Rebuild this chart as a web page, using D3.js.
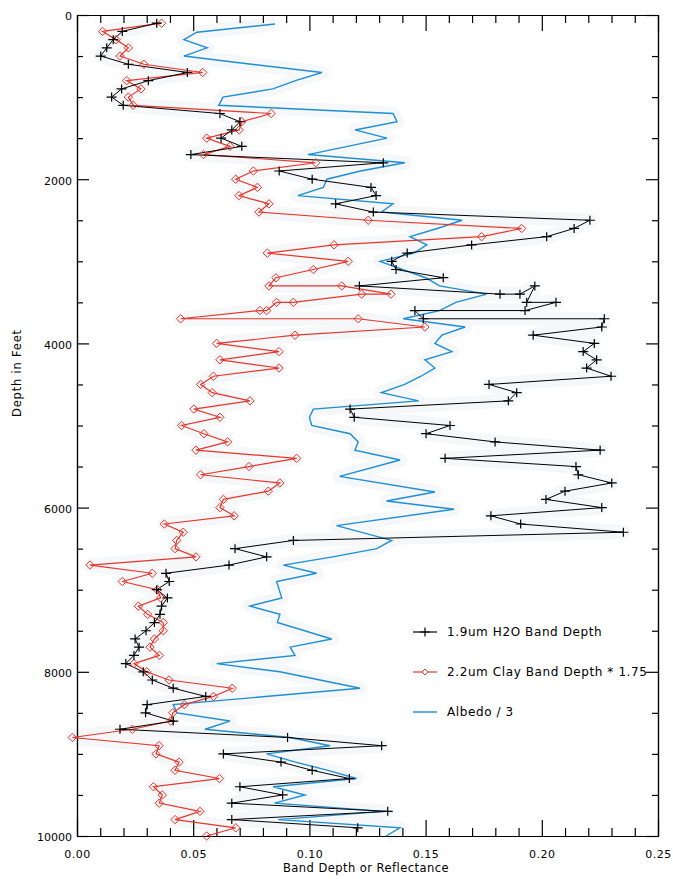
<!DOCTYPE html>
<html><head><meta charset="utf-8">
<script src="https://cdn.jsdelivr.net/npm/d3@7/dist/d3.min.js"></script>
<style>body{margin:0;background:#fff}text{font-family:"DejaVu Sans",sans-serif}</style>
</head><body><svg id="c" width="673" height="879"></svg>
<script>
// 1.9um H2O band depth (depth in feet, value)
const h2oDepth = [100,200,300,400,500,600,700,800,900,1000,1100,1200,1300,1400,1500,1600,1700,1800,1900,2000,
 2100,2200,2300,2400,2500,2600,2700,2800,2900,3000,3100,3200,3300,3400,3400,3300,3500,3500,3600,3600,3700,3700,
 3800,3900,4000,4100,4200,4300,4400,4500,4600,4700,4800,4900,5000,5100,5200,5300,5400,5500,5600,5700,5800,5900,
 6000,6100,6200,6300,6400,6500,6600,6700,6800,6900,7000,7100,7200,7300,7400,7500,7600,7700,7800,7900,8000,8100,
 8200,8300,8400,8500,8600,8700,8800,8900,9000,9100,9200,9300,9400,9500,9600,9700,9800,9900];
const h2oValue = [0.0343,0.0195,0.0156,0.0128,0.0102,0.0221,0.0475,0.0307,0.0192,0.0149,0.0199,0.0615,0.0701,0.0666,0.062,0.0709,0.049,0.1318,0.087,0.1012,
 0.1265,0.1287,0.1113,0.1275,0.2207,0.2139,0.2021,0.1698,0.1421,0.1354,0.1373,0.1576,0.1215,0.182,0.1906,0.197,0.1935,0.2061,0.1928,0.1454,0.149,0.2269,
 0.2258,0.1963,0.2226,0.2178,0.2236,0.2193,0.2298,0.1773,0.1892,0.1856,0.1175,0.1193,0.1605,0.1502,0.1799,0.2251,0.1584,0.2147,0.2157,0.2301,0.21,0.2018,
 0.2258,0.1781,0.1909,0.2351,0.0931,0.068,0.0816,0.0654,0.0383,0.0397,0.0343,0.0389,0.0364,0.0357,0.0333,0.0297,0.025,0.0267,0.0245,0.021,0.0285,0.0324,
 0.0414,0.0554,0.0302,0.0295,0.0414,0.0185,0.0906,0.1311,0.063,0.0878,0.1012,0.1172,0.0701,0.0885,0.0666,0.1337,0.0666,0.1208];

// 2.2um clay band depth * 1.75
const clayDepth = [100,200,300,400,500,600,700,800,900,1000,1100,1200,1300,1400,1500,1600,1700,1800,1900,2000,
 2100,2200,2300,2400,2500,2600,2700,2800,2900,3000,3100,3200,3300,3300,3400,3400,3500,3500,3600,3600,3700,3700,
 3800,3900,4000,4100,4200,4300,4400,4500,4600,4700,4800,4900,5000,5100,5200,5300,5400,5500,5600,5700,5800,5900,
 6000,6100,6200,6300,6400,6500,6600,6700,6800,6900,7000,7100,7200,7300,7400,7500,7600,7700,7800,7900,8000,8100,
 8200,8300,8400,8500,8600,8700,8800,8900,9000,9100,9200,9300,9400,9500,9600,9700,9800,9900,10000];
const clayValue = [0.0364,0.011,0.0168,0.0221,0.0185,0.0288,0.0541,0.0214,0.0275,0.0221,0.0242,0.0835,0.0709,0.0698,0.0558,0.0658,0.0544,0.1027,0.0759,0.0683,
 0.0776,0.0697,0.0826,0.0783,0.1253,0.1913,0.1741,0.1106,0.0819,0.1167,0.1017,0.0856,0.0826,0.1139,0.1351,0.1225,0.0931,0.0859,0.0816,0.0787,0.0446,0.121,
 0.1497,0.0938,0.0601,0.0869,0.0615,0.0869,0.0587,0.0532,0.0582,0.0744,0.0503,0.0615,0.045,0.0546,0.0648,0.0512,0.0945,0.074,0.0532,0.0873,0.0823,0.063,
 0.0615,0.0676,0.0376,0.0457,0.0429,0.0422,0.0512,0.0056,0.0324,0.0195,0.0346,0.036,0.0264,0.0304,0.0371,0.0371,0.0333,0.0314,0.0354,0.0245,0.03,0.0396,
 0.0668,0.0587,0.0462,0.0412,0.0403,0.0238,-0.002,0.0353,0.034,0.0439,0.0422,0.0613,0.0329,0.0367,0.0354,0.0529,0.0422,0.0683,0.0558];

// Albedo / 3
const albedoDepth = [110,210,300,400,500,600,700,800,900,1000,1100,1200,1300,1400,1500,1700,1800,1900,2000,2100,2200,2300,2400,
 2500,2600,2700,2800,2900,3000,3100,3200,3300,3400,3500,3600,3700,3800,3900,4000,4100,4200,4300,4400,4500,4600,4700,4800,4900,
 5000,5100,5200,5300,5420,5620,5810,5920,6020,6220,6400,6500,6600,6700,6800,6900,7100,7200,7300,7400,7600,7700,7800,7900,8000,
 8200,8400,8500,8600,8700,8800,8900,9000,9100,9200,9300,9400,9500,9600,9700,9800,9900,10000];
const albedoValue = [0.0852,0.0516,0.046,0.056,0.046,0.075,0.1054,0.094,0.0843,0.0628,0.061,0.136,0.1377,0.1196,0.1334,0.0994,0.1411,0.122,0.1075,0.106,0.095,0.136,0.131,
 0.1657,0.155,0.1433,0.1505,0.145,0.1304,0.14,0.15,0.156,0.1763,0.163,0.156,0.1404,0.167,0.157,0.154,0.1613,0.1497,0.154,0.148,0.141,0.131,0.147,0.1017,0.1,
 0.101,0.1175,0.121,0.1196,0.139,0.113,0.154,0.1332,0.1622,0.1117,0.1354,0.129,0.11,0.0888,0.1031,0.0859,0.0881,0.0744,0.0873,0.0862,0.1096,0.0917,0.0938,0.0601,0.0873,
 0.1218,0.0414,0.043,0.0658,0.0551,0.0917,0.1089,0.0816,0.094,0.108,0.1203,0.0844,0.0981,0.085,0.1318,0.0866,0.139,0.133];

const xMajor = [0,0.05,0.10,0.15,0.20,0.25];
const xMinor = [0.01,0.02,0.03,0.04,0.06,0.07,0.08,0.09,0.11,0.12,0.13,0.14,0.16,0.17,0.18,0.19,0.21,0.22,0.23,0.24];
const yMajor = [0,2000,4000,6000,8000,10000];
const yMinor = [500,1000,1500,2500,3000,3500,4500,5000,5500,6500,7000,7500,8500,9000,9500];
const legendLabels = ["1.9um H2O Band Depth","2.2um Clay Band Depth * 1.75","Albedo / 3"];

const BLACK="#000", RED="#e8352b", BLUE="#1f8fd4";
const svg = d3.select('#c');
const x = d3.scaleLinear().domain([0,0.25]).range([77,658]);
const y = d3.scaleLinear().domain([0,10000]).range([15,836]);

const zip = (ds,vs)=>ds.map((d,i)=>[vs[i],d]);
const h2o = zip(h2oDepth,h2oValue), clay = zip(clayDepth,clayValue), alb = zip(albedoDepth,albedoValue);
const line = d3.line().x(d=>x(d[0])).y(d=>y(d[1]));

// faint background halo (mimics the light patches of the reference)
const halo = svg.append('g');
[alb,clay,h2o].forEach(s=>halo.append('path').attr('d',line(s)).attr('fill','none')
  .attr('stroke','#f5f7f8').attr('stroke-width',14).attr('stroke-linejoin','round'));

// axes
function ax(gen, tr, vals, size, labels, fmt){
  const a = gen.tickValues(vals).tickSizeInner(-size).tickSizeOuter(0).tickPadding(8);
  if(!labels) a.tickFormat(''); else a.tickFormat(fmt);
  const g = svg.append('g').attr('transform',tr).call(a);
  g.selectAll('path.domain').attr('stroke','#000').attr('stroke-width',1.2);
  g.selectAll('line').attr('stroke','#000').attr('stroke-width',1.2);
  g.selectAll('text').attr('font-size','11px').attr('fill','#000').attr('font-family','DejaVu Sans');
  return g;
}
ax(d3.axisBottom(x),'translate(0,836)',xMajor,16,true,d3.format('.2f')).call(g=>g.selectAll('text').attr('dy','1em').attr('y',11).attr('letter-spacing','0.5px'));
ax(d3.axisBottom(x),'translate(0,836)',xMinor,8,false);
ax(d3.axisTop(x),'translate(0,15)',xMajor,16,false);
ax(d3.axisTop(x),'translate(0,15)',xMinor,8,false);
ax(d3.axisLeft(y),'translate(77,0)',yMajor,12,true,d3.format('d')).call(g=>g.selectAll('text').attr('x',-5).attr('dy','0.45em'));
ax(d3.axisLeft(y),'translate(77,0)',yMinor,6,false);
ax(d3.axisRight(y),'translate(658,0)',yMajor,12,false);
ax(d3.axisRight(y),'translate(658,0)',yMinor,6,false);

// series lines
svg.append('path').attr('d',line(alb)).attr('fill','none').attr('stroke',BLUE).attr('stroke-width',1.4);
svg.append('path').attr('d',line(clay)).attr('fill','none').attr('stroke',RED).attr('stroke-width',1.2);
svg.append('path').attr('d',line(h2o)).attr('fill','none').attr('stroke',BLACK).attr('stroke-width',1);

const diamond = (cx,cy,r)=>`M${cx},${cy-r}L${cx+r},${cy}L${cx},${cy+r}L${cx-r},${cy}Z`;
const plus = (cx,cy)=>`M${cx-5},${cy}H${cx+5}M${cx},${cy-4.5}V${cy+4.5}`;
svg.append('g').selectAll('path').data(clay).join('path')
  .attr('d',d=>diamond(x(d[0]),y(d[1]),4.2)).attr('fill','none').attr('stroke',RED).attr('stroke-width',1);
svg.append('g').selectAll('path').data(h2o).join('path')
  .attr('d',d=>plus(x(d[0]),y(d[1]))).attr('fill','none').attr('stroke',BLACK).attr('stroke-width',1.2);

// axis titles
svg.append('text').attr('x',366).attr('y',872).attr('text-anchor','middle').attr('font-size','11.5px').attr('letter-spacing','0.45px').text('Band Depth or Reflectance');
svg.append('text').attr('transform','translate(21,373) rotate(-90)').attr('text-anchor','middle').attr('font-size','11.5px').attr('letter-spacing','0.8px').text('Depth in Feet');

// legend
const lg = svg.append('g');
const rows = [632,672,712];
const colors=[BLACK,RED,BLUE];
legendLabels.forEach((t,i)=>{
  lg.append('line').attr('x1',413).attr('x2',437).attr('y1',rows[i]).attr('y2',rows[i]).attr('stroke',colors[i]).attr('stroke-width',i==2?1.4:1.2);
  if(i==0) lg.append('path').attr('d',plus(425,rows[i])).attr('stroke',BLACK).attr('stroke-width',1.2);
  if(i==1) lg.append('path').attr('d',diamond(425,rows[i],3)).attr('fill','#fff').attr('stroke',RED);
  lg.append('text').attr('x',447).attr('y',rows[i]).attr('dy','0.35em').attr('font-size','12px').attr('letter-spacing','0.6px').text(t);
});
</script></body></html>
